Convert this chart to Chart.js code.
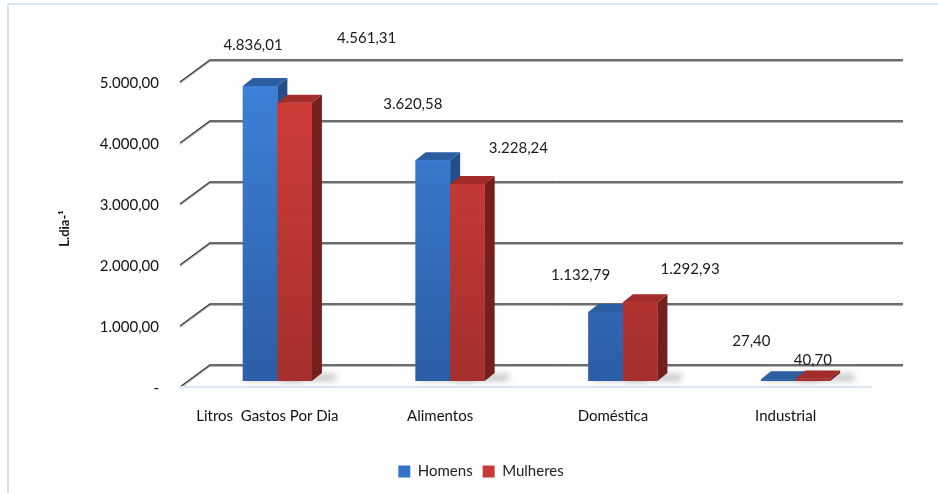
<!DOCTYPE html>
<html>
<head>
<meta charset="utf-8">
<script src="https://cdn.jsdelivr.net/npm/chart.js@4.4.0/dist/chart.umd.min.js"></script>
<style>
  html, body { margin: 0; padding: 0; background: #fff; }
  #wrap { width: 938px; height: 493px; }
</style>
</head>
<body>
<div id="wrap"><canvas id="chart" width="938" height="493"></canvas></div>
<script>
const categories = ['Litros  Gastos Por Dia', 'Alimentos', 'Doméstica', 'Industrial'];
const homens = [4836.01, 3620.58, 1132.79, 27.40];
const mulheres = [4561.31, 3228.24, 1292.93, 40.70];
const tickLabels = ['-', '1.000,00', '2.000,00', '3.000,00', '4.000,00', '5.000,00'];

// where each value label sits, relative to the top centre of its bar
const labelShift = [
    [[-7, -41], [-20, -56], [-25, -37], [-27, -38]],
    [[72, -65], [51, -36], [50, -33], [0, -18]]
];

const depth = { dx: 10, dy: -8 };
const faces = [
    { top: '#3e81da', bottom: '#2b5ea6', side: '#234e8a', cap: '#2c5ea2' },
    { top: '#d33e39', bottom: '#a42f2d', side: '#741f1e', cap: '#a12c29' }
];

function fmt(v) {
    const parts = v.toFixed(2).split('.');
    return parts[0].replace(/\B(?=(\d{3})+(?!\d))/g, '.') + ',' + parts[1];
}

const bars3d = {
    id: 'bars3d',
    beforeDraw(chart) {
        // legend sits a bit right of the plot centre in the original
        if (chart.legend && !chart.legend._moved) {
            chart.legend.left += 36;
            chart.legend.right += 36;
            chart.legend._moved = true;
        }
        const ctx = chart.ctx;
        ctx.save();
        ctx.strokeStyle = '#c9dbf1';
        ctx.lineWidth = 1.5;
        ctx.beginPath();
        ctx.moveTo(8, 493);
        ctx.lineTo(8, 4);
        ctx.lineTo(938, 4);
        ctx.stroke();
        ctx.restore();
    },
    beforeDatasetsDraw(chart) {
        const { ctx, chartArea, scales: { y } } = chart;
        const x0 = chartArea.left - 11, x1 = chartArea.left + 19, x2 = chartArea.right + 21;
        ctx.save();
        y.ticks.forEach(t => {
            const py = y.getPixelForValue(t.value);
            ctx.strokeStyle = '#b5b5b5';
            ctx.lineWidth = 1;
            ctx.beginPath();
            ctx.moveTo(x0, py + 7.5);
            ctx.lineTo(x1, py - 14.5);
            ctx.lineTo(x2, py - 14.5);
            ctx.stroke();
            ctx.strokeStyle = '#3c3c3c';
            ctx.lineWidth = 1.5;
            ctx.beginPath();
            ctx.moveTo(x0, py + 6);
            ctx.lineTo(x1, py - 16);
            ctx.lineTo(x2, py - 16);
            ctx.stroke();
        });
        const base = y.getPixelForValue(0);
        ctx.strokeStyle = '#dbe7f7';
        ctx.lineWidth = 2;
        ctx.beginPath();
        ctx.moveTo(chartArea.left - 12, base + 6);
        ctx.lineTo(chartArea.right - 10, base + 6);
        ctx.stroke();
        ctx.restore();
    },
    afterDatasetsDraw(chart) {
        const { ctx, chartArea } = chart;
        ctx.save();
        // soft shadows on the floor
        chart.data.datasets.forEach((ds, i) => {
            chart.getDatasetMeta(i).data.forEach(bar => {
                const l = bar.x - bar.width / 2;
                ctx.filter = 'blur(3px)';
                ctx.fillStyle = 'rgba(90,90,90,0.35)';
                ctx.fillRect(l + 4, bar.base - 7, bar.width + depth.dx + 10, 7);
                ctx.filter = 'none';
            });
        });
        chart.data.datasets.forEach((ds, i) => {
            const f = faces[i];
            chart.getDatasetMeta(i).data.forEach(bar => {
                const l = bar.x - bar.width / 2, r = bar.x + bar.width / 2;
                const top = bar.y, base = bar.base;
                // side face
                ctx.fillStyle = f.side;
                ctx.beginPath();
                ctx.moveTo(r, top);
                ctx.lineTo(r + depth.dx, top + depth.dy);
                ctx.lineTo(r + depth.dx, base + depth.dy);
                ctx.lineTo(r, base);
                ctx.closePath();
                ctx.fill();
                // top face
                ctx.fillStyle = f.cap;
                ctx.beginPath();
                ctx.moveTo(l, top);
                ctx.lineTo(l + depth.dx, top + depth.dy);
                ctx.lineTo(r + depth.dx, top + depth.dy);
                ctx.lineTo(r, top);
                ctx.closePath();
                ctx.fill();
                // front face
                const g = ctx.createLinearGradient(0, chartArea.top, 0, base);
                g.addColorStop(0, f.top);
                g.addColorStop(1, f.bottom);
                ctx.fillStyle = g;
                ctx.fillRect(l, top, bar.width, base - top);
            });
        });
        // value labels
        ctx.font = '15px Lato';
        ctx.fillStyle = '#1a1a1a';
        ctx.textAlign = 'center';
        ctx.textBaseline = 'middle';
        chart.data.datasets.forEach((ds, i) => {
            chart.getDatasetMeta(i).data.forEach((bar, j) => {
                const s = labelShift[i][j];
                ctx.fillText(fmt(ds.data[j]), bar.x + s[0], bar.y + s[1]);
            });
        });
        ctx.restore();
    }
};

new Chart(document.getElementById('chart'), {
    type: 'bar',
    data: {
        labels: categories,
        datasets: [
            { label: 'Homens', data: homens, backgroundColor: '#3574c8', categoryPercentage: 0.4, barPercentage: 1 },
            { label: 'Mulheres', data: mulheres, backgroundColor: '#c63a37', categoryPercentage: 0.4, barPercentage: 1 }
        ]
    },
    options: {
        responsive: false,
        animation: false,
        layout: { padding: { left: 8, right: 56, top: 76, bottom: 4 } },
        plugins: {
            tooltip: { enabled: false },
            legend: {
                position: 'bottom',
                labels: {
                    boxWidth: 12,
                    boxHeight: 12,
                    padding: 10,
                    color: '#222',
                    font: { family: 'Lato', size: 15 }
                }
            }
        },
        scales: {
            x: {
                grid: { display: false, drawTicks: false },
                border: { display: false },
                ticks: { color: '#111', padding: 26, labelOffset: -10, font: { family: 'Lato', size: 15 }, maxRotation: 0 },
                afterFit(scale) { scale.height = 73; }
            },
            y: {
                min: 0,
                max: 5000,
                grid: { display: false, drawTicks: false },
                border: { display: false },
                ticks: {
                    stepSize: 1000,
                    padding: 32,
                    labelOffset: 7,
                    color: '#111',
                    font: { family: 'Lato', size: 15 },
                    callback: (v, i) => tickLabels[i]
                },
                title: {
                    display: true,
                    text: 'L.dia-¹',
                    color: '#111',
                    font: { family: 'Lato', size: 13, weight: 'bold' },
                    padding: { top: 49, bottom: 0 }
                },
                afterFit(scale) { scale.width = 183; }
            }
        }
    },
    plugins: [bars3d]
});
</script>
</body>
</html>
